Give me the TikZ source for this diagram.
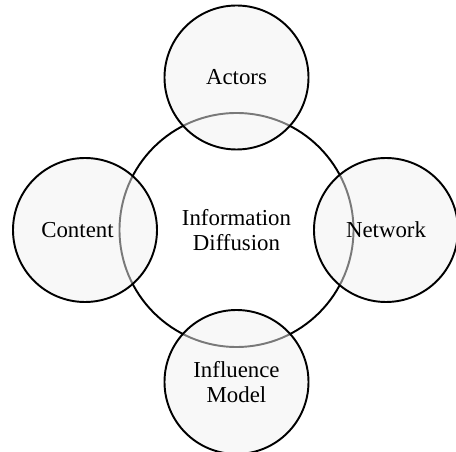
\documentclass[tikz,border=0pt]{standalone}
\usepackage{fontspec}
\setmainfont{Liberation Serif}
\begin{document}
\begin{tikzpicture}[part/.style = {draw, circle, line width = 1.1pt, fill = black!5, fill opacity = 0.5, text opacity = 1, inner sep = 0pt, minimum size = 2.88cm, align = center}]
	\tikzstyle{core}=[draw, circle, line width = 1.1pt, inner sep = 0pt, minimum size = 4.68cm, align = center]
	\useasboundingbox (-4.73,-4.44) rectangle (4.39,4.6);
	\fontsize{13}{13.8}\selectfont
	\node (diffusion) at (0, 0) [core] {Information\\Diffusion};
	\node (actors) at (0, 3.05) [part] {Actors};
	\node (content) at (-3.03, 0) [part] {\hspace*{-0.3cm}Content};
	\node (network) at (2.99, 0) [part] {Network};
	\node (influence) at (0, -3.04) [part] {Influence\\Model};
\end{tikzpicture}
\end{document}
